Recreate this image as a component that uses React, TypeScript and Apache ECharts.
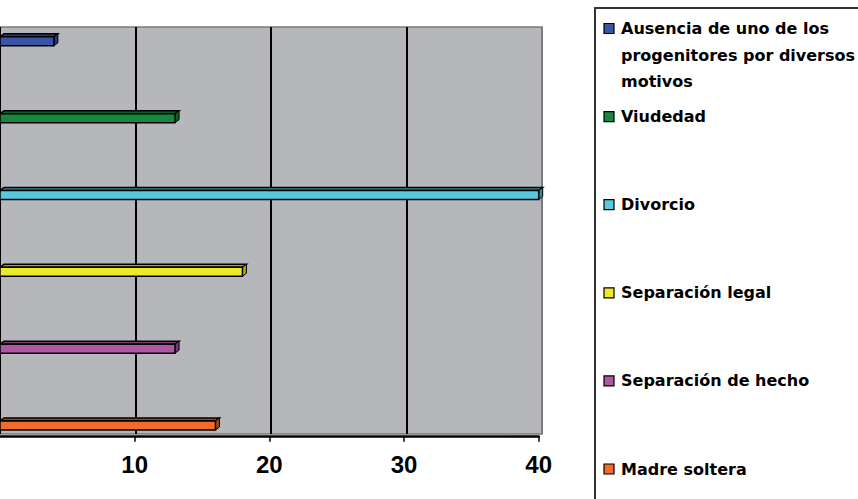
import React, { useEffect, useRef } from "react";
import * as echarts from "echarts";

const categories = [
  "Ausencia de uno de los progenitores por diversos motivos",
  "Viudedad",
  "Divorcio",
  "Separación legal",
  "Separación de hecho",
  "Madre soltera",
];
const legendLines = [
  "Ausencia de uno de los\nprogenitores por diversos\nmotivos",
  "Viudedad",
  "Divorcio",
  "Separación legal",
  "Separación de hecho",
  "Madre soltera",
];
const values = [4, 13, 40, 18, 13, 16];
const colors = ["#3a54a6", "#19883f", "#5ac8dc", "#eeea2a", "#ae58a3", "#f36b2c"];
const sideColors = ["#263a7a", "#0f5c2a", "#2f8e9e", "#a9a512", "#7a3a72", "#a8461a"];
const xTicks = { min: 0, max: 40, interval: 10 };

export default function App() {
  const ref = useRef<HTMLDivElement>(null);
  useEffect(() => {
    if (!ref.current) return;
    const chart = echarts.init(ref.current, undefined, { renderer: "svg" });
    const legendTop = 28.5;
    const legendStep = 88.1;
    const lh = 26.5;
    const legendGraphics: any[] = [
      {
        type: "rect",
        shape: { x: 595, y: 8, width: 320, height: 600 },
        style: { fill: "#fff", stroke: "#333", lineWidth: 2 },
        z: 1,
      },
    ];
    legendLines.forEach((t, i) => {
      const cy = legendTop + i * legendStep;
      legendGraphics.push({
        type: "rect",
        shape: { x: 604, y: cy - 5, width: 10, height: 10 },
        style: { fill: colors[i], stroke: "#000", lineWidth: 1.2 },
        z: 2,
      });
      legendGraphics.push({
        type: "text",
        x: 621,
        y: cy - lh / 2,
        style: {
          text: t,
          font: "bold 16px 'DejaVu Sans'",
          fill: "#000",
          lineHeight: lh,
          verticalAlign: "top",
          align: "left",
        },
        z: 2,
      });
    });

    chart.setOption({
      animation: false,
      grid: [
        {
          left: 0,
          top: 27,
          width: 542,
          height: 407,
          show: true,
          backgroundColor: "#b6b7bb",
          borderColor: "#7a7a7e",
          borderWidth: 1.5,
        },
        { left: -4, top: 27, width: 542.7, height: 409.7 },
        { left: -4, top: 2.9, width: 542.7, height: 461 },
      ],
      xAxis: [
        {
          gridIndex: 0,
          type: "value",
          ...xTicks,
          axisLine: { show: false },
          axisTick: { show: false },
          axisLabel: { show: false },
          splitLine: {
            show: true,
            lineStyle: { color: ["#000", "#000", "#000", "#000", "#7a7a7e"], width: 2 },
          },
        },
        {
          gridIndex: 1,
          type: "value",
          ...xTicks,
          axisLine: { show: true, lineStyle: { color: "#000", width: 2.5 } },
          axisTick: { show: true, length: 5, lineStyle: { color: "#000", width: 1.5 } },
          axisLabel: {
            show: true,
            showMinLabel: false,
            margin: 16,
            fontSize: 24,
            fontWeight: "bold",
            fontFamily: "'Liberation Sans', Arial, sans-serif",
            color: "#000",
          },
          splitLine: { show: false },
        },
        {
          gridIndex: 2,
          type: "value",
          ...xTicks,
          show: false,
        },
      ],
      yAxis: [
        { gridIndex: 0, type: "category", data: categories, show: false },
        { gridIndex: 1, type: "category", data: categories, show: false },
        { gridIndex: 2, type: "category", data: categories, inverse: true, show: false },
      ],
      series: [
        {
          type: "custom",
          xAxisIndex: 2,
          yAxisIndex: 2,
          encode: { x: 0, y: 1 },
          data: values.map((v, i) => [v, i]),
          z: 5,
          renderItem: (params: any, api: any) => {
            const idx = api.value(1);
            const v = api.value(0);
            const p0 = api.coord([0, idx]);
            const p1 = api.coord([v, idx]);
            const h = 9;
            const dx = 4;
            const dy = 3;
            const x0 = p0[0];
            const x1 = p1[0];
            const cy = p0[1];
            const top = cy - h / 2;
            return {
              type: "group",
              children: [
                {
                  type: "polygon",
                  shape: {
                    points: [
                      [x0, top],
                      [x1, top],
                      [x1 + dx, top - dy],
                      [x0 + dx, top - dy],
                    ],
                  },
                  style: { fill: sideColors[idx], stroke: "#000", lineWidth: 1.5 },
                },
                {
                  type: "polygon",
                  shape: {
                    points: [
                      [x1, top],
                      [x1 + dx, top - dy],
                      [x1 + dx, top + h - dy],
                      [x1, top + h],
                    ],
                  },
                  style: { fill: sideColors[idx], stroke: "#000", lineWidth: 1 },
                },
                {
                  type: "rect",
                  shape: { x: x0, y: top, width: x1 - x0, height: h },
                  style: { fill: colors[idx], stroke: "#000", lineWidth: 1.5 },
                },
              ],
            };
          },
        },
      ],
      graphic: legendGraphics,
    });
    return () => chart.dispose();
  }, []);
  return (
    <div
      ref={ref}
      style={{ position: "fixed", left: 0, top: 0, width: 858, height: 499, background: "#fff" }}
    />
  );
}
